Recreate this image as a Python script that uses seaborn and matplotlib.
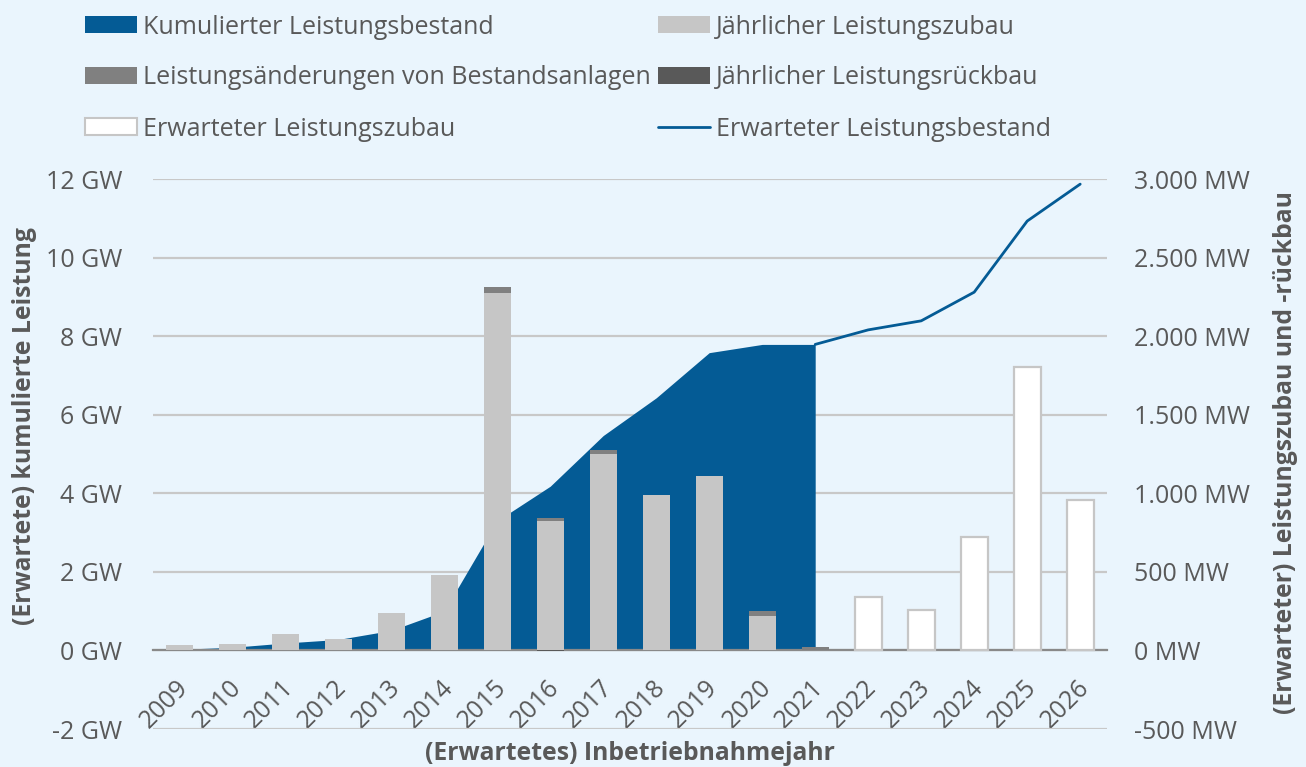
import numpy as np
import pandas as pd
import matplotlib
matplotlib.use("Agg")
import matplotlib.pyplot as plt
from matplotlib.patches import Patch
from matplotlib.lines import Line2D
from matplotlib.transforms import ScaledTranslation
import seaborn as sns

# ---------------- data ----------------
years = [str(y) for y in range(2009, 2027)]
years_actual = [str(y) for y in range(2009, 2022)]
years_expected = [str(y) for y in range(2021, 2027)]
years_exp_bars = [str(y) for y in range(2022, 2027)]

# cumulative installed capacity (GW), 2009-2021
kumuliert_gw = [0.03, 0.08, 0.19, 0.28, 0.51, 1.00, 3.30, 4.18, 5.47, 6.43, 7.58, 7.79, 7.79]
# expected cumulative capacity (GW), 2021-2026
erwartet_bestand_gw = [7.79, 8.16, 8.39, 9.12, 10.93, 11.87]
# annual additions (MW), 2009-2021
zubau_mw = [32, 43, 104, 76, 237, 478, 2276, 822, 1250, 989, 1112, 218, 0]
# capacity changes of existing plants (MW), 2009-2021
aenderung_mw = [0, 0, 0, 0, 0, 0, 34, 23, 28, 0, 0, 30, 20]
# annual decommissioning (MW), 2009-2021
rueckbau_mw = [0, 0, 0, 0, 0, 0, 0, -6, 0, 0, 0, 0, 0]
# expected annual additions (MW), 2022-2026
erwartet_zubau_mw = [342, 257, 720, 1802, 958]

left_ticks = [-2, 0, 2, 4, 6, 8, 10, 12]
right_ticks = [-500, 0, 500, 1000, 1500, 2000, 2500, 3000]

# ---------------- style ----------------
BG = "#EAF5FD"
BLUE = "#045B95"
LIGHT = "#C6C6C6"
MID = "#808080"
DARK = "#595959"
TXT = "#595959"

sns.set_style("white")
plt.rcParams["font.family"] = ["Open Sans", "DejaVu Sans"]
FS = 18
LFS = 17.8

fig = plt.figure(figsize=(13.06, 7.67), dpi=100, facecolor=BG)
ax = fig.add_axes([0.1169, 0.0495, 0.7305, 0.7171])
ax.set_facecolor(BG)
ax2 = ax.twinx()
ax2.patch.set_visible(False)

# ---------------- bars (right axis, MW) ----------------
total_mw = [z + a for z, a in zip(zubau_mw, aenderung_mw)]
bw = 0.51
sns.barplot(x=years_actual, y=total_mw, order=years, color=MID, saturation=1,
            width=bw, linewidth=0, ax=ax2, errorbar=None)
sns.barplot(x=years_actual, y=zubau_mw, order=years, color=LIGHT, saturation=1,
            width=bw, linewidth=0, ax=ax2, errorbar=None)
sns.barplot(x=years_actual, y=rueckbau_mw, order=years, color=DARK, saturation=1,
            width=bw, linewidth=0, ax=ax2, errorbar=None)
sns.barplot(x=years_exp_bars, y=erwartet_zubau_mw, order=years, color="white",
            saturation=1, width=bw, edgecolor=LIGHT, linewidth=1.6, ax=ax2,
            errorbar=None)

# ---------------- area + line (left axis, GW) ----------------
pos_actual = np.array([years.index(y) for y in years_actual])
pos_expected = np.array([years.index(y) for y in years_expected])
ax.fill_between(pos_actual, 0, kumuliert_gw, color=BLUE, lw=0, zorder=1)
sns.lineplot(x=pos_expected, y=erwartet_bestand_gw, ax=ax, color=BLUE, lw=2,
             zorder=3)

# ---------------- axes ----------------
ax.set_xlim(-0.5, 17.5)
ax2.set_xlim(-0.5, 17.5)
ax.set_ylim(-2, 12)
ax2.set_ylim(-500, 3000)

ax.set_axisbelow(True)
ax.yaxis.grid(True, color="#C8C8C8", lw=1.6)
ax.xaxis.grid(False)

for sp in ax.spines.values():
    sp.set_visible(False)
for sp in ax2.spines.values():
    sp.set_visible(False)
ax.spines["bottom"].set_visible(True)
ax.spines["bottom"].set_position(("data", 0))
ax.spines["bottom"].set_color("#898989")
ax.spines["bottom"].set_linewidth(1.6)

ax.set_xticks(range(len(years)))
ax.set_xticklabels(years, rotation=45, ha="right", va="center",
                   rotation_mode="anchor")
ax.set_xticks(np.arange(-0.5, len(years), 1.0), minor=True)
ax.tick_params(axis="x", which="major", length=0, pad=24, labelsize=FS,
               labelcolor=TXT)
ax.tick_params(axis="x", which="minor", length=6.5, width=1.6, color="#898989",
               direction="out")
shift = ScaledTranslation(5 / 100, 0, fig.dpi_scale_trans)
for lab in ax.get_xticklabels():
    lab.set_transform(lab.get_transform() + shift)

ax.set_yticks(left_ticks)
ax.set_yticklabels([f"{v} GW" for v in left_ticks])
ax.tick_params(axis="y", length=0, pad=22, labelsize=FS, labelcolor=TXT)

ax2.set_yticks(right_ticks)
ax2.set_yticklabels([f"{v:,}".replace(",", ".") + " MW" for v in right_ticks])
ax2.tick_params(axis="y", length=0, pad=20, labelsize=FS, labelcolor=TXT)

ax.set_xlabel("(Erwartetes) Inbetriebnahmejahr", fontsize=LFS, fontweight="bold",
              color=TXT, va="center", ha="center")
ax.xaxis.set_label_coords(0.5, -0.045)
ax.set_ylabel("(Erwartete) kumulierte Leistung", fontsize=LFS, fontweight="bold",
              color=TXT, va="center", ha="center")
ax.yaxis.set_label_coords(-0.1339, 0.551)
ax2.set_ylabel("(Erwarteter) Leistungszubau und -rückbau", fontsize=LFS,
               fontweight="bold", color=TXT, rotation=90, va="center",
               ha="center")
ax2.yaxis.set_label_coords(1.1869, 0.5036)

# ---------------- legend ----------------
leg_kw = dict(frameon=False, fontsize=FS, labelcolor=TXT, borderpad=0,
              borderaxespad=0, handlelength=2.08, handleheight=0.64,
              handletextpad=0.24, labelspacing=1.04, loc="upper left")
h1 = [Patch(facecolor=BLUE, edgecolor="none"),
      Patch(facecolor=MID, edgecolor="none"),
      Patch(facecolor="white", edgecolor=LIGHT, linewidth=1.5)]
l1 = ["Kumulierter Leistungsbestand",
      "Leistungsänderungen von Bestandsanlagen",
      "Erwarteter Leistungszubau"]
h2 = [Patch(facecolor=LIGHT, edgecolor="none"),
      Patch(facecolor=DARK, edgecolor="none"),
      Line2D([0], [0], color=BLUE, lw=2)]
l2 = ["Jährlicher Leistungszubau",
      "Jährlicher Leistungsrückbau",
      "Erwarteter Leistungsbestand"]
leg1 = fig.legend(h1, l1, bbox_to_anchor=(85 / 1306, 1 - 14.5 / 767), **leg_kw)
leg2 = fig.legend(h2, l2, bbox_to_anchor=(658 / 1306, 1 - 14.5 / 767), **leg_kw)

fig.savefig("out.png", dpi=100, facecolor=BG)
